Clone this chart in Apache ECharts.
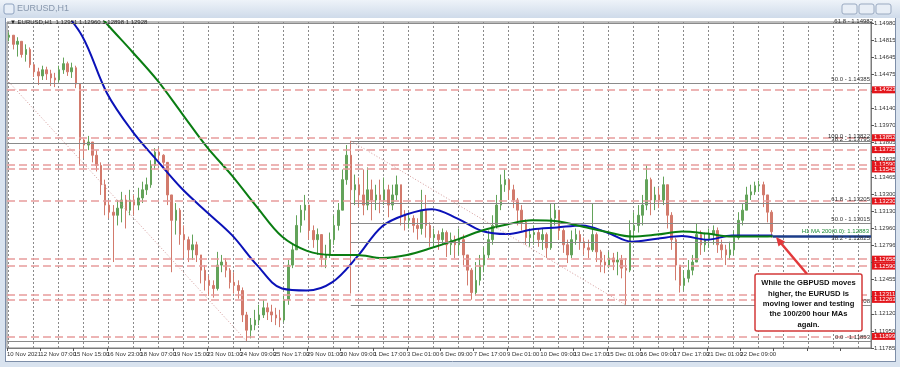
<!DOCTYPE html>
<html><head><meta charset="utf-8">
<script src="https://cdn.jsdelivr.net/npm/echarts@6/dist/echarts.min.js"></script>
<style>html,body{margin:0;padding:0;background:#fff;overflow:hidden}#c{width:900px;height:367px}</style>
</head><body><div id="c"></div><script>
// ---------- DATA ----------
const xTickLabels = ['10 Nov 2021','12 Nov 07:00','15 Nov 15:00','16 Nov 23:00','18 Nov 07:00','19 Nov 15:00','23 Nov 01:00','24 Nov 09:00','25 Nov 17:00','29 Nov 01:00','30 Nov 09:00','1 Dec 17:00','3 Dec 01:00','6 Dec 09:00','7 Dec 17:00','9 Dec 01:00','10 Dec 09:00','13 Dec 17:00','15 Dec 01:00','16 Dec 09:00','17 Dec 17:00','21 Dec 01:00','22 Dec 09:00'];
const yTickLabels = ['1.11785','1.11950','1.12120','1.12290','1.12455','1.12625','1.12796','1.12960','1.13130','1.13300','1.13465','1.13635','1.13805','1.13970','1.14140','1.14305','1.14475','1.14645','1.14815','1.14980'];

const firstOpen = 1.1484;
const closes = [1.1486,1.1477,1.1480,1.1467,1.1472,1.1457,1.1450,1.1446,1.1452,1.1448,
1.1444,1.1442,1.1452,1.1458,1.1450,1.1454,1.1438,1.1383,1.1378,1.1381,
1.1368,1.1358,1.1339,1.1319,1.1312,1.1309,1.1316,1.1324,1.1314,1.1324,
1.1319,1.1326,1.1334,1.1339,1.1358,1.1371,1.1368,1.1361,1.1329,1.1304,
1.1314,1.1290,1.1285,1.1275,1.1280,1.1270,1.1255,1.1245,1.1240,1.1237,
1.1260,1.1263,1.1255,1.1243,1.1240,1.1235,1.1211,1.1196,1.1201,1.1206,
1.1211,1.1218,1.1214,1.1211,1.1208,1.1206,1.1226,1.1260,1.1275,1.1299,
1.1314,1.1319,1.1294,1.1285,1.1290,1.1267,1.1270,1.1285,1.1299,1.1314,
1.1344,1.1368,1.1334,1.1339,1.1329,1.1319,1.1334,1.1324,1.1329,1.1324,
1.1334,1.1319,1.1329,1.1339,1.1309,1.1304,1.1306,1.1299,1.1296,1.1314,
1.1299,1.1287,1.1290,1.1285,1.1292,1.1280,1.1285,1.1280,1.1285,1.1270,
1.1255,1.1233,1.1245,1.1260,1.1270,1.1285,1.1299,1.1319,1.1339,1.1344,
1.1334,1.1324,1.1314,1.1302,1.1287,1.1290,1.1292,1.1285,1.1290,1.1277,
1.1306,1.1314,1.1294,1.1280,1.1270,1.1285,1.1290,1.1283,1.1277,1.1275,
1.1290,1.1273,1.1263,1.1260,1.1267,1.1263,1.1265,1.1257,1.1255,1.1294,
1.1299,1.1309,1.1319,1.1344,1.1324,1.1329,1.1324,1.1339,1.1309,1.1285,
1.1260,1.1240,1.1247,1.1255,1.1263,1.1290,1.1280,1.1285,1.1290,1.1294,
1.1280,1.1275,1.1270,1.1275,1.1287,1.1304,1.1314,1.1329,1.1332,1.1338,
1.1339,1.1329,1.1312,1.12928];
const highs = [1.1489,1.1486,1.1484,1.1479,1.1477,1.1474,1.1458,1.1454,1.1456,1.1455,
1.1452,1.1449,1.1456,1.1464,1.1460,1.1459,1.1456,1.1438,1.1385,1.1387,
1.1380,1.1373,1.1361,1.1344,1.1324,1.1319,1.1324,1.1332,1.1329,1.1334,
1.1329,1.1336,1.1342,1.1346,1.1363,1.1375,1.1375,1.1369,1.1361,1.1329,
1.1321,1.1316,1.1299,1.1288,1.1290,1.1283,1.1270,1.1260,1.1250,1.1245,
1.1273,1.1270,1.1267,1.1257,1.1253,1.1245,1.1238,1.1214,1.1208,1.1216,
1.1221,1.1226,1.1223,1.1221,1.1218,1.1216,1.1230,1.1265,1.1280,1.1309,
1.1319,1.1329,1.1319,1.1299,1.1296,1.1290,1.1280,1.1292,1.1309,1.1321,
1.1354,1.1378,1.1382,1.1349,1.1346,1.1354,1.1356,1.1344,1.1339,1.1344,
1.1346,1.1339,1.1339,1.1348,1.1339,1.1314,1.1312,1.1309,1.1306,1.1334,
1.1329,1.1302,1.1296,1.1294,1.1296,1.1294,1.1292,1.1289,1.1296,1.1290,
1.1270,1.1257,1.1263,1.1270,1.1278,1.1294,1.1309,1.1329,1.1349,1.1354,
1.1344,1.1339,1.1326,1.1319,1.1305,1.1296,1.1299,1.1296,1.1296,1.1292,
1.1321,1.1321,1.1314,1.1296,1.1285,1.1294,1.1296,1.1294,1.1287,1.1285,
1.1321,1.1292,1.1275,1.1270,1.1273,1.1272,1.1273,1.1270,1.1267,1.1304,
1.1312,1.1319,1.1329,1.1358,1.1346,1.1337,1.1336,1.1347,1.1339,1.1312,
1.1287,1.1260,1.1255,1.1265,1.1270,1.1301,1.1294,1.1292,1.1296,1.1299,
1.1297,1.1285,1.1280,1.1283,1.1294,1.1312,1.1321,1.1337,1.1339,1.1342,
1.1343,1.1342,1.1329,1.1314];
const lows = [1.1480,1.1472,1.1465,1.1464,1.1460,1.1454,1.1445,1.1437,1.1442,1.1442,
1.1436,1.1435,1.1440,1.1448,1.1446,1.1444,1.1434,1.1358,1.1365,1.1373,
1.1361,1.1352,1.1329,1.1309,1.1306,1.1263,1.1299,1.1302,1.1296,1.1309,
1.1309,1.1314,1.1321,1.1329,1.1336,1.1354,1.1363,1.1354,1.1319,1.1253,
1.1290,1.1280,1.1267,1.1263,1.1265,1.1263,1.1242,1.1235,1.1230,1.1228,
1.1235,1.1253,1.1248,1.1237,1.1232,1.1227,1.1204,1.11853,1.1188,1.1196,
1.1201,1.1208,1.1206,1.1204,1.1201,1.1199,1.1204,1.1221,1.1257,1.1275,
1.1292,1.1304,1.1285,1.1277,1.1270,1.1258,1.1257,1.1267,1.1280,1.1294,
1.1314,1.1339,1.1232,1.1319,1.1317,1.1309,1.1314,1.1304,1.1314,1.1311,
1.1319,1.1307,1.1314,1.1324,1.1299,1.1294,1.1296,1.1292,1.1285,1.1290,
1.1287,1.1278,1.1277,1.1275,1.1280,1.1268,1.1270,1.1267,1.1270,1.1260,
1.1240,1.1226,1.1230,1.1240,1.1253,1.1267,1.1280,1.1296,1.1314,1.1332,
1.1324,1.1316,1.1299,1.1294,1.1280,1.1278,1.1280,1.1278,1.1275,1.1267,
1.1275,1.1299,1.1285,1.1272,1.1262,1.1267,1.1280,1.1275,1.1270,1.1267,
1.1273,1.1263,1.1253,1.1252,1.1257,1.1255,1.1250,1.1247,1.1221,1.1253,
1.1285,1.1292,1.1299,1.1314,1.1309,1.1314,1.1316,1.1319,1.1296,1.1275,
1.1245,1.1233,1.1235,1.1243,1.1250,1.1263,1.1270,1.1273,1.1277,1.1280,
1.1272,1.1267,1.1260,1.1265,1.1270,1.1285,1.1299,1.1314,1.1324,1.1329,
1.1332,1.1317,1.1302,1.1287];

// moving averages, sampled once per trading day (hour index on the chart)
const maHours = [48,72,96,120,144,168,192,216,240,264,288,312,336,360,384,408,432,456,480,504,528,552,576,600,624,648,672,696,720,735];
const ma100 = [1.1517,1.14855,1.1429,1.1392,1.1363,1.1335,1.1312,1.12895,1.1260,1.1237,1.1235,1.1243,1.1268,1.1298,1.1310,1.1315,1.1306,1.12935,1.12905,1.1295,1.1297,1.1299,1.1292,1.1283,1.1286,1.12885,1.1285,1.1289,1.1289,1.1289];
const ma200Hours = [72,96,120,144,168,192,216,240,264,288,312,336,360,384,408,432,456,480,504,528,552,576,600,624,648,672,696,720,735];
const ma200 = [1.1526,1.1497,1.1470,1.1442,1.1409,1.1376,1.1348,1.1317,1.1288,1.1274,1.1270,1.1270,1.1267,1.1270,1.1277,1.1285,1.1294,1.1300,1.1304,1.1303,1.1298,1.12925,1.1288,1.1290,1.1293,1.1291,1.1288,1.1288,1.12883];

const srLevels = [1.14323,1.13852,1.13735,1.13590,1.13545,1.13230,1.12658,1.12590,1.12311,1.12263,1.11899];
const fibWideLevels = [[1.14982,'61.8'],[1.14385,'50.0'],[1.13795,'38.2'],[1.11853,'0.0']];
const fibNarrowLevels = [[1.13822,'100.0'],[1.13205,'61.8'],[1.13015,'50.0'],[1.12825,'38.2'],[1.12208,'0.0']];
const fibNarrowStartHour = 330;
const diagonals = [[[0,1.1442],[230,1.11853]],[[330,1.13822],[594,1.12208]]];
const maLineValue = 1.12883, maLineStartHour = 735;
const lastPrice = 1.12928;

const firstBarHour = 2, hoursPerBar = 4;
const hoursSpan = 829.4;
const priceMin = 1.11785, priceMax = 1.149898, labelAxisMax = 19.0585;

// ---------- BUILD ----------
const FONT = 'Liberation Sans, Arial, sans-serif';
const candleData = closes.map((c, i) => {
  const o = i === 0 ? firstOpen : closes[i - 1];
  return [firstBarHour + hoursPerBar * i, o, c, Math.min(lows[i], o, c), Math.max(highs[i], o, c)];
});
const srData = srLevels.map(v => ({
  yAxis: v,
  label: {show: true, position: 'end', distance: 1, formatter: v.toFixed(5), backgroundColor: '#e3151b', color: '#fff',
    fontSize: 6, fontFamily: FONT, padding: [1, 2, 0, 2]}
}));
const fibLabel = (lv, v, d) => ({show: true, position: 'insideEndTop', distance: d, formatter: lv + ' - ' + v.toFixed(5),
  color: '#333', fontSize: 6, fontFamily: FONT});
const fibData = fibWideLevels.map(([v, lv], i) => ({yAxis: v, label: fibLabel(lv, v, i === 0 ? -2 : 1)}))
  .concat(fibNarrowLevels.map(([v, lv]) => [{coord: [fibNarrowStartHour, v], label: fibLabel(lv, v, 1)}, {coord: [hoursSpan, v]}]));
const diagData = diagonals.map(([a, b]) => [{coord: a}, {coord: b}]);
const xLabelFmt = v => { const k = v / 32; if (Math.abs(k - Math.round(k)) > 1e-6 || Math.round(k) === 0) return ''; return xTickLabels[Math.round(k)] || ''; };

const chart = echarts.init(document.getElementById('c'), null, {renderer: 'canvas'});
chart.setOption({
  animation: false,
  backgroundColor: '#ffffff',
  grid: [
    {left: 7, right: 29, top: 22, bottom: 19, show: true, borderColor: '#7c7c7c', borderWidth: 1, backgroundColor: '#fff'},
    {left: 7, right: 29, top: 22, bottom: 19, show: false},
    {left: 8, right: 29, top: 22, bottom: 19, show: false}
  ],
  xAxis: [
    {gridIndex: 0, type: 'value', min: 0, max: hoursSpan, interval: 32,
      axisLine: {show: true, lineStyle: {color: '#7c7c7c'}},
      axisTick: {show: true, length: 3, lineStyle: {color: '#555'}},
      splitLine: {show: false},
      axisLabel: {show: true, align: 'left', margin: 3, fontSize: 6, color: '#333', fontFamily: FONT, showMinLabel: true, showMaxLabel: false, hideOverlap: false,
        formatter: xLabelFmt}},
    {gridIndex: 1, type: 'value', min: 0, max: hoursSpan, interval: 32,
      axisLine: {show: false}, axisTick: {show: false}, splitLine: {show: false},
      axisLabel: {show: true, align: 'left', margin: 3, fontSize: 6, color: '#333', fontFamily: FONT, showMinLabel: true, showMaxLabel: false, hideOverlap: false,
        formatter: v => (v === 0 ? xTickLabels[0] : '')}},
    {gridIndex: 2, type: 'value', min: 0, max: hoursSpan - 0.96, interval: 24,
      axisLine: {show: false}, axisTick: {show: false}, axisLabel: {show: false},
      splitLine: {show: true, lineStyle: {color: '#8a8a8a', type: [2, 2], width: 1}}}
  ],
  yAxis: [
    {gridIndex: 0, type: 'value', min: priceMin, max: priceMax, show: false},
    {gridIndex: 0, type: 'value', position: 'right', min: 0, max: labelAxisMax, interval: 1,
      axisLine: {show: true, lineStyle: {color: '#7c7c7c'}},
      axisTick: {show: true, length: 3, lineStyle: {color: '#555'}},
      splitLine: {show: false},
      axisLabel: {margin: 3, fontSize: 6, color: '#333', fontFamily: FONT, showMinLabel: true, showMaxLabel: false, hideOverlap: false,
        formatter: v => Math.abs(v - Math.round(v)) > 1e-6 ? '' : (yTickLabels[Math.round(v)] || '')}},
    {gridIndex: 1, type: 'value', min: 0, max: 1, show: false},
    {gridIndex: 2, type: 'value', min: 0, max: 1, show: false}
  ],
  series: [
    {type: 'line', xAxisIndex: 0, yAxisIndex: 0, data: [], silent: true, z: 1,
      markLine: {silent: true, precision: 6, symbol: ['none', 'none'], animation: false,
        lineStyle: {color: '#e89c9c', type: [8, 4], width: 1.5}, data: srData}},
    {type: 'line', xAxisIndex: 0, yAxisIndex: 0, data: [], silent: true, z: 1,
      markLine: {silent: true, precision: 6, symbol: ['none', 'none'], animation: false,
        lineStyle: {color: '#8a8a8a', type: 'solid', width: 1}, data: fibData}},
    {type: 'line', xAxisIndex: 0, yAxisIndex: 0, data: [], silent: true, z: 1,
      markLine: {silent: true, precision: 6, symbol: ['none', 'none'], animation: false, label: {show: false},
        lineStyle: {color: '#d49a9a', type: [1, 2], width: 1}, data: diagData}},
    {type: 'candlestick', xAxisIndex: 0, yAxisIndex: 0, barWidth: 2, z: 3,
      encode: {x: 0, y: [1, 2, 3, 4]},
      itemStyle: {color: '#63a35a', color0: '#d27a6c', borderColor: '#63a35a', borderColor0: '#d27a6c', borderWidth: 1},
      data: candleData},
    {type: 'line', xAxisIndex: 0, yAxisIndex: 0, z: 4, smooth: 0.35, showSymbol: false, symbol: 'none',
      lineStyle: {color: '#0b12b8', width: 2}, data: maHours.map((h, i) => [h, ma100[i]])},
    {type: 'line', xAxisIndex: 0, yAxisIndex: 0, z: 4, smooth: 0.35, showSymbol: false, symbol: 'none',
      lineStyle: {color: '#0a7d12', width: 2}, data: ma200Hours.map((h, i) => [h, ma200[i]])},
    {type: 'line', xAxisIndex: 0, yAxisIndex: 0, data: [], silent: true, z: 5,
      markLine: {silent: true, precision: 6, symbol: ['none', 'none'], animation: false, data: [
        [{coord: [maLineStartHour, maLineValue], lineStyle: {color: '#1b3c88', width: 2.5, type: 'solid'},
          label: {show: true, position: 'insideEndTop', distance: 2, formatter: 'H1 MA 200(0.0): ' + maLineValue.toFixed(5), color: '#1e8a36', fontSize: 6, fontFamily: FONT}},
         {coord: [hoursSpan, maLineValue]}],
        {yAxis: lastPrice, lineStyle: {opacity: 0},
          label: {show: true, position: 'end', distance: 1, formatter: lastPrice.toFixed(5), backgroundColor: '#000', color: '#fff', fontSize: 6, fontFamily: FONT, padding: [1, 2, 0, 2]}}
      ]}}
  ],
  graphic: [
    {type: 'rect', z: 50, shape: {x: 0, y: 0, width: 900, height: 18},
      style: {fill: new echarts.graphic.LinearGradient(0, 0, 0, 1, [{offset: 0, color: '#eef3f9'}, {offset: 1, color: '#cfdbea'}])}},
    {type: 'rect', z: 51, shape: {x: 4, y: 4, width: 10, height: 10, r: 2}, style: {fill: '#e7eef7', stroke: '#8fa3c0', lineWidth: 1}},
    {type: 'text', z: 51, x: 17, y: 9, style: {text: 'EURUSD,H1', fill: '#8797ad', font: '9px ' + FONT, verticalAlign: 'middle'}},
    {type: 'rect', z: 51, shape: {x: 842, y: 4, width: 15, height: 10, r: 2}, style: {fill: '#e8eef6', stroke: '#9aaac1', lineWidth: 1}},
    {type: 'rect', z: 51, shape: {x: 859, y: 4, width: 15, height: 10, r: 2}, style: {fill: '#e8eef6', stroke: '#9aaac1', lineWidth: 1}},
    {type: 'rect', z: 51, shape: {x: 876, y: 4, width: 15, height: 10, r: 2}, style: {fill: '#e8eef6', stroke: '#9aaac1', lineWidth: 1}},
    {type: 'rect', z: 50, shape: {x: 0, y: 18, width: 5, height: 349}, style: {fill: '#d9e3ef'}},
    {type: 'line', z: 50, shape: {x1: 5.5, y1: 18, x2: 5.5, y2: 362}, style: {stroke: '#7d8ea8', lineWidth: 1}},
    {type: 'rect', z: 50, shape: {x: 0, y: 362, width: 900, height: 5}, style: {fill: '#d9e3ef'}},
    {type: 'line', z: 50, shape: {x1: 5, y1: 361.5, x2: 900, y2: 361.5}, style: {stroke: '#7d8ea8', lineWidth: 1}},
    {type: 'rect', z: 50, shape: {x: 896, y: 18, width: 4, height: 349}, style: {fill: '#d9e3ef'}},
    {type: 'line', z: 50, shape: {x1: 895.5, y1: 18, x2: 895.5, y2: 362}, style: {stroke: '#7d8ea8', lineWidth: 1}},
    {type: 'text', z: 52, x: 10, y: 22, style: {text: '\u25BC EURUSD,H1  1.12951 1.12960 1.12898 1.12928', fill: '#222', font: '6px ' + FONT, verticalAlign: 'middle'}},
    // callout
    {type: 'line', z: 60, shape: {x1: 807, y1: 274, x2: 780, y2: 242}, style: {stroke: '#e2393b', lineWidth: 2.5}},
    {type: 'polygon', z: 60, shape: {points: [[776, 237], [785, 241.5], [778.5, 246.5]]}, style: {fill: '#e2393b'}},
    {type: 'rect', z: 61, shape: {x: 755, y: 274, width: 107, height: 57, r: 2}, style: {fill: '#fff', stroke: '#d33a3a', lineWidth: 1.5}},
    {type: 'text', z: 62, x: 808.5, y: 278, style: {text: 'While the GBPUSD moves\nhigher, the EURUSD is\nmoving lower and testing\nthe 100/200 hour MAs\nagain.',
      fill: '#111', font: 'bold 7.6px ' + FONT, align: 'center', lineHeight: 10.4}}
  ]
});
</script></body></html>
